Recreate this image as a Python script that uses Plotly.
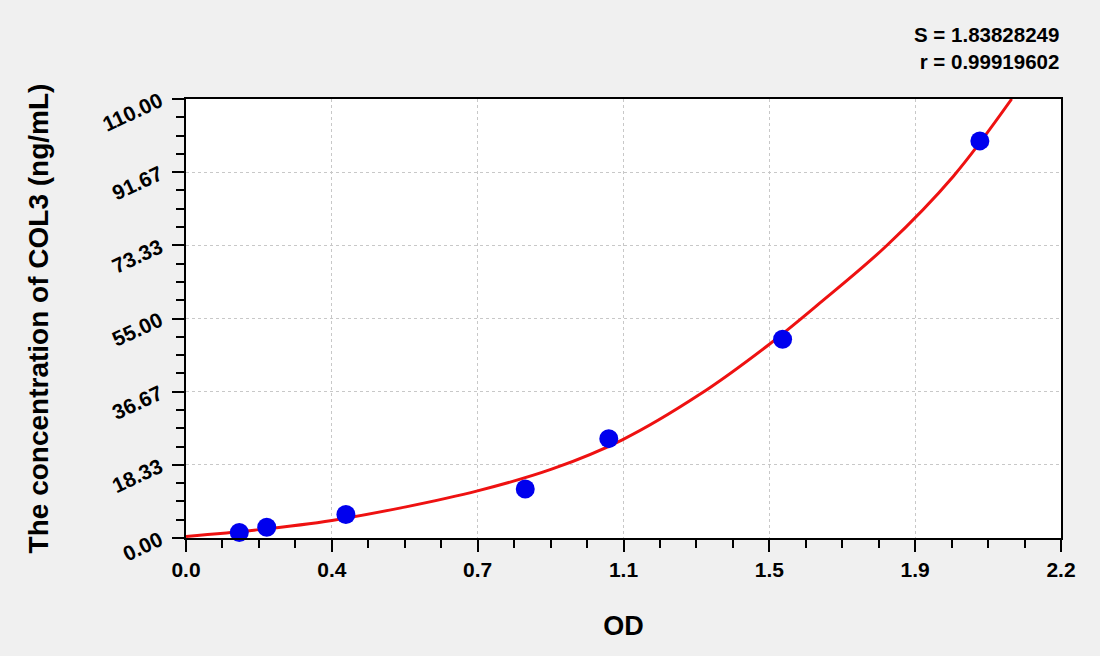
import plotly.graph_objects as go

# Standard points (OD, concentration)
od_points = [0.134, 0.203, 0.402, 0.853, 1.063, 1.500, 1.996]
conc_points = [1.4, 2.7, 5.9, 12.3, 24.9, 49.8, 99.5]

# Fitted curve
curve_od = [0.0, 0.184, 0.367, 0.553, 0.733, 0.921, 1.097, 1.292, 1.466, 1.594, 1.762, 1.929, 2.076]
curve_conc = [0.4, 2.1, 4.4, 7.8, 11.8, 17.3, 24.6, 36.0, 48.5, 58.9, 73.3, 90.6, 110.0]

x_tickvals = [0.0, 2.2/6, 2*2.2/6, 3*2.2/6, 4*2.2/6, 5*2.2/6, 2.2]
x_ticktext = ["0.0", "0.4", "0.7", "1.1", "1.5", "1.9", "2.2"]
y_tickvals = [0.0, 110/6, 2*110/6, 3*110/6, 4*110/6, 5*110/6, 110.0]
y_ticktext = ["0.00", "18.33", "36.67", "55.00", "73.33", "91.67", "110.00"]

stats_text = ["S = 1.83828249", "r = 0.99919602"]

font_family = "Liberation Sans, Arial, sans-serif"

fig = go.Figure()
fig.add_trace(go.Scatter(x=curve_od, y=curve_conc, mode="lines",
                         line=dict(color="#ee1111", width=3, shape="spline", smoothing=1.0),
                         hoverinfo="skip", showlegend=False))
fig.add_trace(go.Scatter(x=od_points, y=conc_points, mode="markers",
                         marker=dict(color="#0000ee", size=19, line=dict(width=0)),
                         showlegend=False, cliponaxis=False))

axis_common = dict(
    showline=True, linecolor="black", linewidth=2, mirror=True,
    ticks="outside", ticklen=12, tickwidth=2, tickcolor="black",
    showgrid=True, gridcolor="#c8c8c8", griddash="dot", gridwidth=1,
    zeroline=False,
    tickfont=dict(family=font_family, size=21, color="black", weight="bold"),
)

fig.update_xaxes(**axis_common, range=[0, 2.2], tickmode="array",
                 tickvals=x_tickvals, ticktext=x_ticktext,
                 minor=dict(dtick=2.2/24, tick0=0, ticklen=8, tickwidth=2,
                            tickcolor="black", ticks="outside", showgrid=False),
                 title=dict(text="OD", standoff=36,
                            font=dict(family=font_family, size=27, color="black", weight="bold")))
fig.update_yaxes(**axis_common, range=[0, 110], tickmode="array",
                 tickvals=y_tickvals, ticktext=y_ticktext, tickangle=-25,
                 ticklabelstandoff=8,
                 minor=dict(dtick=110/24, tick0=0, ticklen=8, tickwidth=2,
                            tickcolor="black", ticks="outside", showgrid=False),
                 title=dict(text="The concentration of COL3 (ng/mL)", standoff=42,
                            font=dict(family=font_family, size=28, color="black", weight="bold")))

fig.add_annotation(text="<b>" + stats_text[0] + "<br>" + stats_text[1] + "</b>",
                   xref="paper", yref="paper", x=1.0, y=1.0, xanchor="right", yanchor="bottom",
                   yshift=24, align="right", showarrow=False,
                   font=dict(family=font_family, size=20.5, color="black"))

fig.update_layout(
    width=1100, height=656,
    paper_bgcolor="#f0f0f0", plot_bgcolor="white",
    margin=dict(l=186, r=39, t=99, b=118),
)

fig.write_html("out.html", config={"displayModeBar": False},
               post_script="document.body.style.margin='0';document.body.style.background='#f0f0f0';")
